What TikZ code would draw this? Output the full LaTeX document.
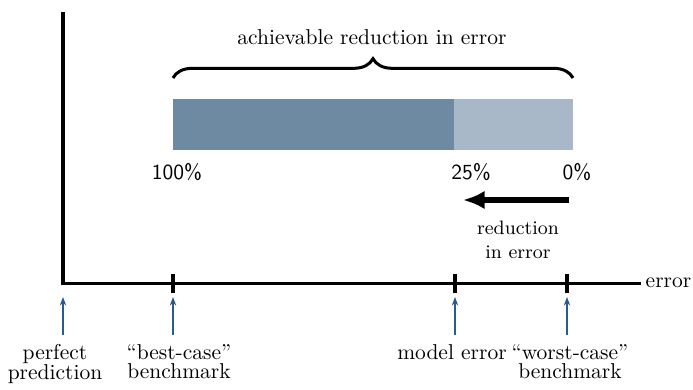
\documentclass[tikz,border=0pt]{standalone}
\usepackage{amsmath}
\usepackage{xcolor}
\usepackage{tikz}
\usetikzlibrary{arrows.meta,positioning,decorations.pathreplacing,calc}
\definecolor{bardark}{HTML}{6D8AA2}
\definecolor{barlight}{HTML}{A8B8C8}
\definecolor{markblue}{HTML}{2B5B8E}

\begin{document}
\begin{tikzpicture}[x=0.465pt,y=-0.465pt,
	axisline/.style={line width=1.4pt},
	marker/.style={-{Stealth[length=4pt,width=3pt]},markblue,line width=0.6pt},
	lbl/.style={align=center,anchor=north,inner sep=1pt},
	pct/.style={font=\sffamily,inner sep=1pt}]
	\useasboundingbox (0,0) rectangle (693,389);
	% axes
	\coordinate (origin) at (63,283);
	\coordinate (ytop) at (63,12);
	\coordinate (xend) at (641,283);
	\draw[axisline] (ytop) -- (origin) -- (xend) node[right,inner sep=1.5pt] (xlabel) {error};
	% ticks on the error axis
	\foreach \x/\n in {173/best,455/model,567/worst}{
		\draw[axisline] (\x,274) -- (\x,293) coordinate (tick\n);
		\coordinate (foot\n) at (\x,335);
	}
	\coordinate (tickperfect) at (63,293);
	\coordinate (footperfect) at (63,335);
	% labels under the axis
	\node[lbl] (perfect) at (55,342) {perfect\\[-3pt]prediction};
	\node[lbl] (best) at (179,342) {“best-case”\\[-3pt]benchmark};
	\node[lbl] (model) at (452,342) {model error};
	\node[lbl] (worst) at (570,342) {“worst-case”\\[-3pt]benchmark};
	\foreach \n in {perfect,best,model,worst}
		\draw[marker] (foot\n) -- ($(tick\n)+(0,4)$);
	% bar of achievable reduction
	\fill[bardark] (173,99) rectangle (454,150);
	\fill[barlight] (454,99) rectangle (573,150);
	\node[pct] (p100) at (177,172) {100\%};
	\node[pct] (p25) at (471,172) {25\%};
	\node[pct] (p0) at (577,172) {0\%};
	% brace and title
	\draw[decorate,decoration={brace,amplitude=9pt},line width=1.4pt] (173,78) -- (573,78);
	\node (title) at (372,37) {achievable reduction in error};
	% reduction arrow
	\coordinate (arrstart) at (569,200);
	\coordinate (arrend) at (463,200);
	\draw[line width=2.4pt,-{Latex[length=10pt,width=8.5pt]}] (arrstart) -- (arrend);
	\node[align=center,font=\small] (reduc) at (518,240) {reduction\\in error};
\end{tikzpicture}
\end{document}
